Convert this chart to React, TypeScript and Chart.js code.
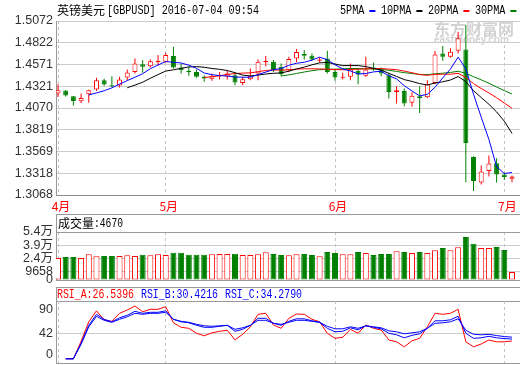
import React, { useEffect, useRef } from 'react';
import { Chart, registerables } from 'chart.js';

Chart.register(...registerables);

// ---------------- data ----------------
const titleName = '英镑美元';
const titleCode = '[GBPUSD] 2016-07-04 09:54';

const monthTickIndex = [0, 14, 36, 58];
const monthTickLabels = ['4月', '5月', '6月', '7月'];

const opens = [
  1.4237, 1.4272, 1.4206, 1.4148, 1.4229, 1.4283, 1.4391, 1.4333, 1.4329, 1.4422,
  1.4486, 1.4575, 1.4552, 1.4598, 1.4602, 1.4668, 1.4537, 1.4498, 1.4486, 1.4429,
  1.4406, 1.4437, 1.4429, 1.4448, 1.4359, 1.4402, 1.4468, 1.4598, 1.4602, 1.4544,
  1.4506, 1.4641, 1.4691, 1.4671, 1.4614, 1.4641, 1.4486, 1.4417, 1.4429, 1.4498,
  1.4440, 1.4537, 1.4514, 1.4448, 1.4255, 1.4267, 1.4131, 1.4206, 1.4194, 1.4359,
  1.4699, 1.4660, 1.4729, 1.4745, 1.3505, 1.3212, 1.3343, 1.3435, 1.3305, 1.3255,
];
const highs = [
  1.4344, 1.4275, 1.4208, 1.4237, 1.4281, 1.4417, 1.4406, 1.4437, 1.4429, 1.4514,
  1.4641, 1.4622, 1.4630, 1.4679, 1.4706, 1.4775, 1.4583, 1.4544, 1.4514, 1.4448,
  1.4468, 1.4486, 1.4498, 1.4475, 1.4429, 1.4526, 1.4630, 1.4668, 1.4622, 1.4583,
  1.4660, 1.4749, 1.4737, 1.4699, 1.4653, 1.4729, 1.4514, 1.4475, 1.4583, 1.4526,
  1.4660, 1.4595, 1.4537, 1.4475, 1.4321, 1.4295, 1.4252, 1.4321, 1.4391, 1.4726,
  1.4783, 1.4757, 1.4948, 1.5026, 1.3513, 1.3409, 1.3524, 1.3490, 1.3328, 1.3293,
];
const lows = [
  1.4198, 1.4202, 1.4098, 1.4128, 1.4131, 1.4267, 1.4325, 1.4313, 1.4306, 1.4391,
  1.4468, 1.4475, 1.4537, 1.4560, 1.4590, 1.4526, 1.4468, 1.4440, 1.4417, 1.4371,
  1.4383, 1.4399, 1.4399, 1.4333, 1.4333, 1.4391, 1.4391, 1.4552, 1.4486, 1.4437,
  1.4486, 1.4598, 1.4630, 1.4614, 1.4590, 1.4468, 1.4383, 1.4399, 1.4391, 1.4344,
  1.4429, 1.4498, 1.4437, 1.4179, 1.4121, 1.4090, 1.4085, 1.4013, 1.4186, 1.4344,
  1.4614, 1.4653, 1.4699, 1.3216, 1.3114, 1.3189, 1.3282, 1.3213, 1.3244, 1.3216,
];
const closes = [
  1.4275, 1.4214, 1.4152, 1.4186, 1.4275, 1.4391, 1.4341, 1.4318, 1.4399, 1.4480,
  1.4583, 1.4544, 1.4607, 1.4613, 1.4679, 1.4537, 1.4506, 1.4484, 1.4429, 1.4410,
  1.4440, 1.4450, 1.4468, 1.4364, 1.4402, 1.4440, 1.4602, 1.4612, 1.4506, 1.4460,
  1.4633, 1.4714, 1.4671, 1.4630, 1.4630, 1.4486, 1.4422, 1.4431, 1.4514, 1.4456,
  1.4514, 1.4514, 1.4468, 1.4255, 1.4275, 1.4121, 1.4212, 1.4183, 1.4344, 1.4687,
  1.4660, 1.4717, 1.4872, 1.3666, 1.3228, 1.3340, 1.3432, 1.3305, 1.3274, 1.3282,
];

const volumes = [
  24750, 25900, 25900, 24750, 28900, 26700, 27000, 27000, 27000, 27800,
  27000, 28500, 27800, 28900, 28100, 30700, 30700, 28500, 28500, 28500,
  28900, 29250, 29250, 29600, 28100, 28100, 28900, 31150, 29250, 28100,
  27800, 28900, 29250, 28100, 26700, 31500, 30400, 28900, 28900, 31500,
  30400, 28100, 29250, 29250, 32300, 31500, 30400, 31500, 30400, 33400,
  36000, 33400, 36800, 48400, 40800, 36000, 36000, 37100, 33750, 9000,
];

const rsiA = [
  null, -9, -9, 26, 65, 87, 68.6, 66, 82, 88.6,
  96.6, 85, 90, 90, 95.3, 63, 54, 52, 42, 37,
  43, 46, 48, 29, 40, 55, 80, 82, 58.6, 52,
  72, 80.6, 80, 70, 65, 42, 32, 34, 50, 42,
  58.6, 52, 48.6, 28.6, 25, 15, 27, 32, 55, 82,
  80, 82, 90, 25, 15, 20.6, 28.6, 25, 25, 26.54,
];
const rsiB = [
  null, -9, -9, 22, 58, 80, 70, 65, 73, 78,
  86, 82, 84, 84, 87, 70, 65, 63, 58, 54,
  54, 56, 58, 46, 50, 58, 72, 72, 62, 58,
  66, 71, 71, 67, 64, 52, 45, 46, 53, 49,
  57, 54, 51, 42, 39, 33, 38, 41, 52, 67,
  67, 69, 76, 42, 32, 33, 36, 33, 31.5, 30.42,
];
const rsiC = [
  null, -9, -9, 20, 55, 76, 68, 64, 70, 75,
  82, 80, 82, 82, 84, 70, 66, 64, 60, 57,
  56, 57, 58, 50, 53, 58, 68, 68, 62, 60,
  64, 68, 68, 66, 64, 56, 51, 51, 55, 52,
  57, 55, 53, 47, 45, 41, 43, 45, 52, 62,
  63, 65, 71, 48, 40, 39, 40, 37.5, 35.5, 34.28,
];

const priceTickLabels = ['1.3068', '1.3318', '1.3569', '1.3819', '1.4070', '1.4321', '1.4571', '1.4822', '1.5072'];
const volumeTickValues = [0, 9658, 24000, 39000, 54000];
const volumeTickLabels = ['0', '9658', '2.4万', '3.9万', '5.4万'];
const rsiTickValues = [0, 42, 90];
const rsiTickLabels = ['0', '42', '90'];

const maPeriods = [5, 10, 20, 30];
const maNames = ['5PMA', '10PMA', '20PMA', '30PMA'];
const maColors = ['#0000ff', '#000000', '#ff0000', '#008000'];

const volumeTitle = '成交量';
const volumeLast = ':4670';
const rsiNames = ['RSI_A', 'RSI_B', 'RSI_C'];
const rsiLast = ['26.5396', '30.4216', '34.2790'];
const rsiColors = ['#ff0000', '#0000ff', '#0000ff'];

// ---------------- styling ----------------
const RED = '#ff0000';
const GREEN = '#008000';
const X_MIN = -0.26;
const X_MAX = 60.04;
const AXIS_W = 56;
const LABEL_FONT = { family: "'Liberation Sans', 'Noto Sans CJK SC', sans-serif", size: 12.5 };
const CJK = "'Noto Sans CJK SC'";
const MONO = "'Liberation Mono', 'DejaVu Sans Mono', monospace";

function movingAverage(values: number[], n: number) {
  return values.map((_, i) => {
    if (i < n - 1) return null;
    let s = 0;
    for (let k = i - n + 1; k <= i; k++) s += values[k];
    return s / n;
  });
}

function xScale(showLabels: boolean, height: number, showBorder: boolean) {
  return {
    type: 'linear',
    min: X_MIN,
    max: X_MAX,
    offset: false,
    afterBuildTicks: (s: any) => {
      s.ticks = monthTickIndex.map((v) => ({ value: v }));
    },
    afterFit: (s: any) => {
      s.height = height;
      s.paddingLeft = 0;
      s.paddingRight = 0;
    },
    grid: { color: '#c4c4c4', offset: false, drawTicks: false, lineWidth: 1 },
    border: { display: showBorder, color: '#8c8c8c', dash: [3, 3] },
    ticks: {
      display: showLabels,
      autoSkip: false,
      maxRotation: 0,
      color: RED,
      padding: 4,
      labelOffset: 3,
      font: { family: CJK, size: 12 },
      callback: (_v: any, i: number) => monthTickLabels[i],
    },
  };
}

function yScaleBase(values: number[], labels: string[], gridColor: (v: number) => string) {
  return {
    type: 'linear',
    position: 'left',
    beginAtZero: false,
    afterBuildTicks: (s: any) => {
      s.ticks = values.map((v) => ({ value: v }));
    },
    afterFit: (s: any) => {
      s.width = AXIS_W;
      s.paddingTop = 0;
      s.paddingBottom = 0;
    },
    grid: { drawTicks: false, color: (ctx: any) => gridColor(ctx.tick ? ctx.tick.value : 0) },
    border: { display: true, color: '#999999' },
    ticks: {
      autoSkip: false,
      padding: 3,
      color: '#333333',
      font: LABEL_FONT,
      callback: (_v: any, i: number) => labels[i],
    },
  };
}

export default function App() {
  const mainRef = useRef<HTMLCanvasElement>(null);
  const volRef = useRef<HTMLCanvasElement>(null);
  const rsiRef = useRef<HTMLCanvasElement>(null);

  useEffect(() => {
    const charts: Chart[] = [];
    const idx = closes.map((_, i) => i);
    const up = closes.map((c, i) => c >= opens[i]);
    const candleColor = up.map((u) => (u ? RED : GREEN));
    const candleFill = up.map((u) => (u ? '#ffffff' : GREEN));
    const priceValues = priceTickLabels.map((s) => parseFloat(s));

    const watermark = {
      id: 'watermark',
      beforeDatasetsDraw(chart: any) {
        const ctx = chart.ctx;
        ctx.save();
        ctx.fillStyle = '#d2d2d2';
        ctx.textBaseline = 'middle';
        ctx.font = `bold 16px ${CJK}`;
        ctx.fillText('东方财富网', 434, 29, 86);
        ctx.font = "bold 10px 'Liberation Sans'";
        ctx.fillText('eastmoney.com', 434, 40.5, 84);
        ctx.restore();
      },
    };

    const header = {
      id: 'header',
      afterDraw(chart: any) {
        const ctx = chart.ctx;
        ctx.save();
        ctx.textBaseline = 'middle';
        ctx.fillStyle = '#000';
        ctx.font = `12px ${CJK}`;
        ctx.fillText(titleName, 57, 10);
        ctx.font = `13px ${MONO}`;
        ctx.fillText(titleCode, 107, 10.5, 152);
        let x = 340;
        maNames.forEach((name, k) => {
          const w = name.length * 6.1;
          ctx.fillStyle = '#000';
          ctx.fillText(name, x, 11, w);
          x += w + 5;
          ctx.fillStyle = maColors[k];
          ctx.fillRect(x, 10, 6, 2);
          x += 6 + 5.5;
        });
        ctx.restore();
      },
    };

    if (mainRef.current) {
      charts.push(
        new Chart(mainRef.current, {
          type: 'bar',
          data: {
            datasets: [
              ...maPeriods.map((n, k) => ({
                type: 'line',
                label: maNames[k],
                data: movingAverage(closes, n).map((v, i) => ({ x: i, y: v })),
                borderColor: maColors[k],
                borderWidth: 1,
                pointRadius: 0,
                tension: 0,
                fill: false,
                order: -10 + k,
              })),
              {
                type: 'bar',
                label: 'body',
                data: idx.map((i) => ({ x: i, y: [opens[i], closes[i]] })),
                backgroundColor: candleFill,
                borderColor: candleColor,
                borderWidth: 1,
                borderSkipped: false,
                barThickness: 5,
                grouped: false,
                inflateAmount: 0,
                order: 1,
              },
              {
                type: 'bar',
                label: 'wick',
                data: idx.map((i) => ({ x: i, y: [lows[i], highs[i]] })),
                backgroundColor: candleColor,
                borderWidth: 0,
                barThickness: 1,
                grouped: false,
                inflateAmount: 0,
                order: 2,
              },
            ],
          } as any,
          options: {
            responsive: false,
            animation: false,
            devicePixelRatio: 1,
            events: [],
            layout: { padding: { top: 21, left: 0, right: 0, bottom: 0 } },
            plugins: { legend: { display: false }, tooltip: { enabled: false } },
            scales: {
              x: xScale(true, 17, true),
              y: {
                ...yScaleBase(priceValues, priceTickLabels, () => '#cccccc'),
                min: 1.3068,
                max: 1.5072,
              },
            },
          } as any,
          plugins: [watermark, header],
        })
      );
    }

    const volBox = {
      id: 'volBox',
      beforeDraw(chart: any) {
        const ctx = chart.ctx;
        ctx.save();
        ctx.strokeStyle = '#999999';
        ctx.lineWidth = 1;
        ctx.strokeRect(56.5, 2.5, 480, 66);
        ctx.restore();
      },
      afterDraw(chart: any) {
        const ctx = chart.ctx;
        ctx.save();
        ctx.textBaseline = 'middle';
        ctx.fillStyle = '#000';
        ctx.font = `12px ${CJK}`;
        ctx.fillText(volumeTitle, 58, 11.5);
        ctx.font = `13px ${MONO}`;
        ctx.fillText(volumeLast, 94, 11.5, 29);
        ctx.restore();
      },
    };

    if (volRef.current) {
      charts.push(
        new Chart(volRef.current, {
          type: 'bar',
          data: {
            datasets: [
              {
                label: 'volume',
                data: idx.map((i) => ({ x: i, y: volumes[i] })),
                backgroundColor: candleFill,
                borderColor: candleColor,
                borderWidth: 1,
                borderSkipped: false,
                barThickness: 6,
                grouped: false,
                inflateAmount: 0,
              },
            ],
          } as any,
          options: {
            responsive: false,
            animation: false,
            devicePixelRatio: 1,
            events: [],
            layout: { padding: { top: 20, left: 0, right: 0, bottom: 7 } },
            plugins: { legend: { display: false }, tooltip: { enabled: false } },
            scales: {
              x: xScale(false, 0, false),
              y: {
                ...yScaleBase(volumeTickValues, volumeTickLabels, (v) =>
                  v === 54000 ? '#999999' : v === 0 ? 'rgba(0,0,0,0)' : '#cccccc'
                ),
                min: 0,
                max: 54000,
              },
            },
          } as any,
          plugins: [volBox],
        })
      );
    }

    const rsiBox = {
      id: 'rsiBox',
      beforeDraw(chart: any) {
        const ctx = chart.ctx;
        ctx.save();
        ctx.strokeStyle = '#999999';
        ctx.lineWidth = 1;
        ctx.strokeRect(56.5, 3.5, 480, 76);
        ctx.beginPath();
        ctx.moveTo(56, 17.5);
        ctx.lineTo(520, 17.5);
        ctx.stroke();
        ctx.restore();
      },
      afterDraw(chart: any) {
        const ctx = chart.ctx;
        ctx.save();
        ctx.textBaseline = 'middle';
        ctx.font = `13px ${MONO}`;
        let x = 57;
        rsiNames.forEach((n, k) => {
          const t = `${n}:${rsiLast[k]}`;
          ctx.fillStyle = rsiColors[k];
          ctx.fillText(t, x, 10.5, 77);
          x += 84;
        });
        ctx.restore();
      },
    };

    if (rsiRef.current) {
      const series = [rsiA, rsiB, rsiC];
      charts.push(
        new Chart(rsiRef.current, {
          type: 'line',
          data: {
            datasets: series.map((s, k) => ({
              label: rsiNames[k],
              data: s.map((v, i) => ({ x: i, y: v })),
              borderColor: rsiColors[k],
              borderWidth: 1,
              pointRadius: 0,
              tension: 0,
              fill: false,
              order: 3 - k,
            })),
          } as any,
          options: {
            responsive: false,
            animation: false,
            devicePixelRatio: 1,
            events: [],
            layout: { padding: { top: 17, left: 0, right: 0, bottom: 2 } },
            plugins: { legend: { display: false }, tooltip: { enabled: false } },
            scales: {
              x: xScale(false, 0, false),
              y: {
                ...yScaleBase(rsiTickValues, rsiTickLabels, (v) => (v === 42 ? '#cccccc' : 'rgba(0,0,0,0)')),
                min: -17.4,
                max: 106.6,
              },
            },
          } as any,
          plugins: [rsiBox],
        })
      );
    }

    return () => charts.forEach((c) => c.destroy());
  }, []);

  return (
    <div
      style={{
        position: 'fixed',
        left: 0,
        top: 0,
        width: 520,
        height: 365,
        background: '#ffffff',
        overflow: 'hidden',
      }}
    >
      <canvas ref={mainRef} width={520} height={212} style={{ position: 'absolute', left: 0, top: 0 }} />
      <canvas ref={volRef} width={520} height={75} style={{ position: 'absolute', left: 0, top: 212 }} />
      <canvas ref={rsiRef} width={520} height={81} style={{ position: 'absolute', left: 0, top: 284 }} />
    </div>
  );
}
